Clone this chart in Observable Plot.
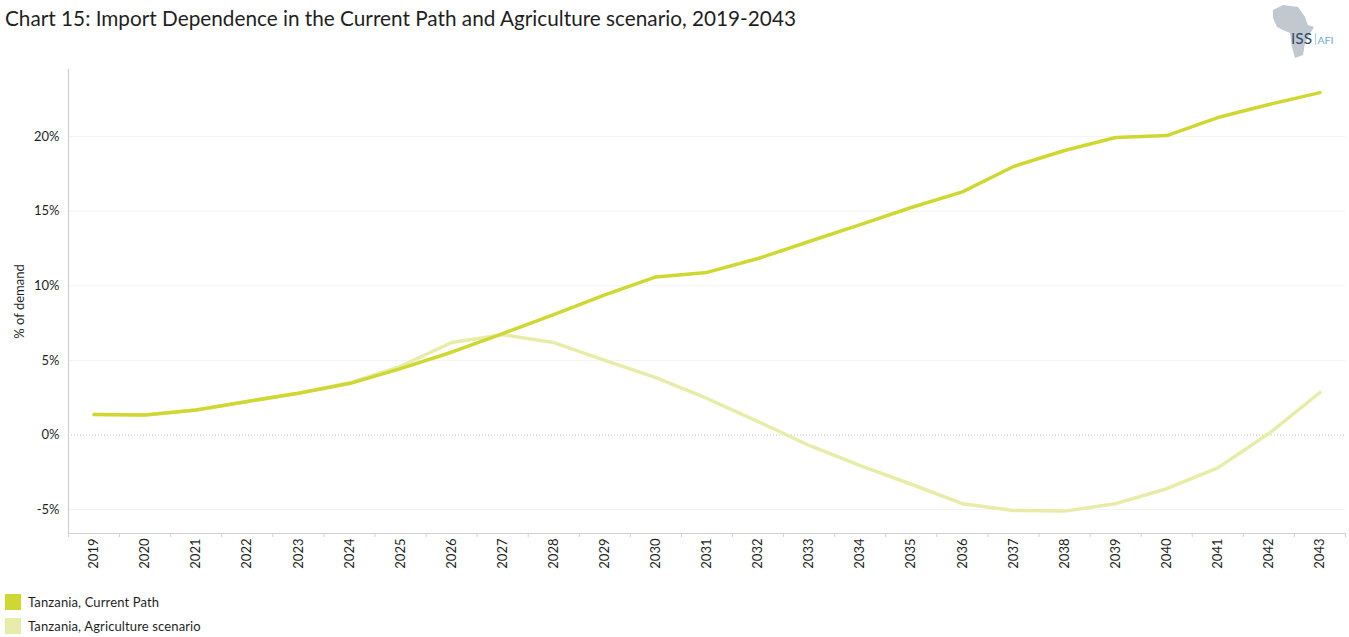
<!DOCTYPE html>
<html>
<head>
<meta charset="utf-8">
<title>Import Dependence</title>
<script src="https://cdn.jsdelivr.net/npm/d3@7"></script>
<script src="https://cdn.jsdelivr.net/npm/@observablehq/plot@0.6"></script>
<style>
  html, body { margin: 0; background: #fff; overflow: hidden; }
  body { position: relative; width: 1349px; height: 637px; font-family: Lato, sans-serif; color: #1f1f1f; }
  #title { position: absolute; left: 5px; top: 5px; font-size: 20.75px; line-height: 26px; white-space: nowrap; }
  #chart { position: absolute; left: 0; top: 40px; }
  #chart svg { overflow: visible; }
  .key { position: absolute; left: 5px; font-size: 13px; letter-spacing: 0.13px; white-space: nowrap; }
  .key i { position: absolute; left: 0; top: 0; width: 16px; height: 16px; }
  .key span { position: absolute; left: 23px; top: 0; line-height: 17px; }
  #logo { position: absolute; left: 1268px; top: 4px; width: 70px; height: 58px; }
</style>
</head>
<body>
<div id="title">Chart 15: Import Dependence in the Current Path and Agriculture scenario, 2019-2043</div>
<div id="chart"></div>
<div class="key" style="top:594px"><i style="background:#cfd832"></i><span>Tanzania, Current Path</span></div>
<div class="key" style="top:618px"><i style="background:#e7eda8"></i><span>Tanzania, Agriculture scenario</span></div>
<svg id="logo" viewBox="0 0 70 58">
  <!-- ISS AFI emblem: Africa silhouette with wordmark -->
  <path d="M5 6 L15 1 L30 3 L37 13 L40 21 L46 23 L40 33 L37 39 L35 51 L27 54 L24 43 L22 29 L15 26 L9 23 L5 14 Z" fill="#c2c8d0" style="filter:blur(.5px)"/>
  <text x="23" y="40" font-family="Lato" font-size="16" fill="#2d4a68" textLength="21" lengthAdjust="spacingAndGlyphs">ISS</text>
  <line x1="47.5" y1="29" x2="47.5" y2="41" stroke="#9fc3dd" stroke-width="0.8"/>
  <text x="49.5" y="39.5" font-family="Lato" font-size="10" fill="#6fa8d0" textLength="16" lengthAdjust="spacingAndGlyphs">AFI</text>
</svg>
<script>
// Years on the horizontal axis and import dependence, % of demand
const years = d3.range(2019, 2044);
const currentPath = [1.37, 1.34, 1.68, 2.25, 2.8, 3.45, 4.45, 5.55, 6.8, 8.07, 9.4, 10.6, 10.9, 11.83, 12.97, 14.1, 15.25, 16.3, 18, 19.07, 19.94, 20.07, 21.28, 22.15, 22.95];
const agriculture = [1.37, 1.34, 1.68, 2.25, 2.8, 3.5, 4.6, 6.2, 6.72, 6.2, 5, 3.85, 2.45, 0.9, -0.7, -2.05, -3.3, -4.6, -5.06, -5.1, -4.6, -3.6, -2.2, 0.1, 2.85];
const yTicks = [-5, 5, 10, 15, 20];
const xEdges = d3.range(2018.5, 2044.5);
const xDomain = [2018.5, 2043.5];
const yDomain = [-6.6, 24.5];

const plot = Plot.plot({
  width: 1349,
  height: 545,
  marginLeft: 68,
  marginRight: 4,
  marginTop: 29,
  marginBottom: 52,
  style: {fontFamily: "Lato", fontSize: "13px", color: "#1f1f1f", background: "transparent"},
  x: {domain: xDomain},
  y: {domain: yDomain},
  marks: [
    Plot.ruleY(yTicks, {stroke: "#f2f2f2", strokeWidth: 1}),
    Plot.ruleY([0], {stroke: "#c4c4c4", strokeDasharray: "1 2", strokeWidth: 1}),
    Plot.ruleX(xDomain.slice(0, 1), {stroke: "#d0d0d0", strokeWidth: 1.2}),
    Plot.ruleY(yDomain.slice(0, 1), {stroke: "#d0d0d0", strokeWidth: 1.2}),
    Plot.axisX({ticks: xEdges, tickSize: 4, tickFormat: () => "", stroke: "#d0d0d0", label: null}),
    Plot.axisX({ticks: years, tickSize: 0, tickRotate: -90, tickPadding: 5, tickFormat: d => String(d), label: null}),
    Plot.axisY({ticks: [...yTicks, 0], tickSize: 0, tickPadding: 9, tickFormat: d => `${d}%`, label: "% of demand", labelAnchor: "center", labelArrow: "none", labelOffset: 54}),
    Plot.line(years, {x: d => d, y: (d, i) => agriculture[i], stroke: "#e7eda8", strokeWidth: 3.5}),
    Plot.line(years, {x: d => d, y: (d, i) => currentPath[i], stroke: "#cfd832", strokeWidth: 3.5})
  ]
});
document.getElementById("chart").append(plot);
</script>
</body>
</html>
